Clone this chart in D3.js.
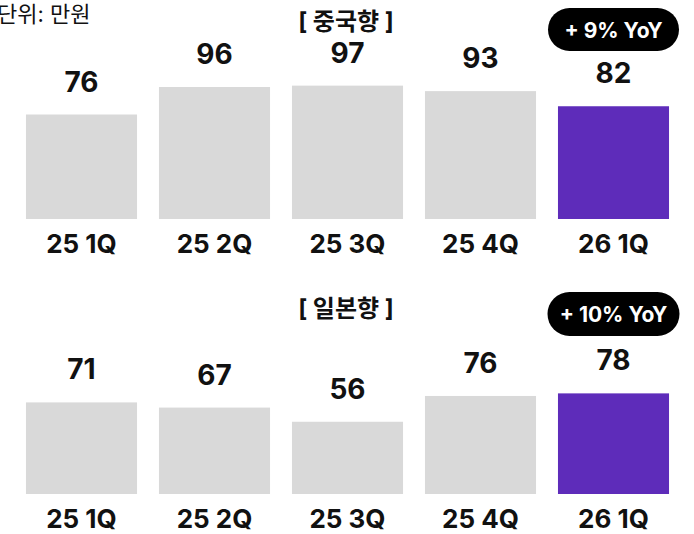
<!DOCTYPE html>
<html>
<head>
<meta charset="utf-8">
<script src="https://cdn.jsdelivr.net/npm/d3@7"></script>
<style>
  html, body { margin: 0; padding: 0; background: #fff; }
  svg { display: block; font-family: Inter, "Noto Sans CJK KR", sans-serif; }
</style>
</head>
<body>
<div id="chart"></div>
<script>
const quarters = ['25 1Q', '25 2Q', '25 3Q', '25 4Q', '26 1Q'];
const chinaValues = [76, 96, 97, 93, 82];
const japanValues = [71, 67, 56, 76, 78];
const panelTitles = ['[ 중국향 ]', '[ 일본향 ]'];
const yoyLabels = ['+ 9% YoY', '+ 10% YoY'];

const width = 694, height = 534;
const svg = d3.select('#chart').append('svg')
  .attr('width', width)
  .attr('height', height);

const x = d3.scaleBand()
  .domain(quarters)
  .range([15, 680])
  .paddingInner(0.165)
  .paddingOuter(0.0825);

// unit note, partly cut at the left edge like the original
svg.append('text')
  .attr('x', -3)
  .attr('y', 22)
  .attr('font-size', 22)
  .attr('fill', '#111')
  .text('단위: 만원');

const panels = [
  { values: chinaValues, base: 219, pxPer: 1.375, titleY: 30, pill: [8, 51], pillW: 131 },
  { values: japanValues, base: 494, pxPer: 1.29, titleY: 317, pill: [292, 336], pillW: 132 }
];

panels.forEach((p, i) => {
  const y = d3.scaleLinear()
    .domain([0, 100])
    .range([p.base, p.base - 100 * p.pxPer]);

  const g = svg.append('g');

  g.append('text')
    .attr('x', 346)
    .attr('y', p.titleY)
    .attr('text-anchor', 'middle')
    .attr('font-size', 24)
    .attr('font-weight', 700)
    .attr('fill', '#111')
    .text(panelTitles[i]);

  g.selectAll('rect.bar')
    .data(p.values)
    .enter()
    .append('rect')
    .attr('class', 'bar')
    .attr('x', (d, j) => x(quarters[j]))
    .attr('y', d => y(d))
    .attr('width', x.bandwidth())
    .attr('height', d => y(0) - y(d))
    .attr('fill', (d, j) => j === quarters.length - 1 ? '#5e2cba' : '#d9d9d9');

  g.selectAll('text.val')
    .data(p.values)
    .enter()
    .append('text')
    .attr('class', 'val')
    .attr('x', (d, j) => x(quarters[j]) + x.bandwidth() / 2)
    .attr('y', d => y(d) - 23)
    .attr('text-anchor', 'middle')
    .attr('font-size', 28)
    .attr('font-weight', 700)
    .attr('fill', '#111')
    .text(d => d);

  g.selectAll('text.cat')
    .data(quarters)
    .enter()
    .append('text')
    .attr('class', 'cat')
    .attr('x', d => x(d) + x.bandwidth() / 2)
    .attr('y', p.base + 34)
    .attr('text-anchor', 'middle')
    .attr('font-size', 26)
    .attr('font-weight', 700)
    .attr('fill', '#111')
    .text(d => d);

  // YoY pill over the last bar
  const cx = x(quarters[quarters.length - 1]) + x.bandwidth() / 2;
  const ph = p.pill[1] - p.pill[0];
  g.append('rect')
    .attr('x', cx - p.pillW / 2)
    .attr('y', p.pill[0])
    .attr('width', p.pillW)
    .attr('height', ph)
    .attr('rx', ph / 2)
    .attr('fill', '#000');
  g.append('text')
    .attr('x', cx)
    .attr('y', p.pill[0] + ph / 2 + 8)
    .attr('text-anchor', 'middle')
    .attr('font-size', 21)
    .attr('font-weight', 700)
    .attr('fill', '#fff')
    .text(yoyLabels[i]);
});
</script>
</body>
</html>
